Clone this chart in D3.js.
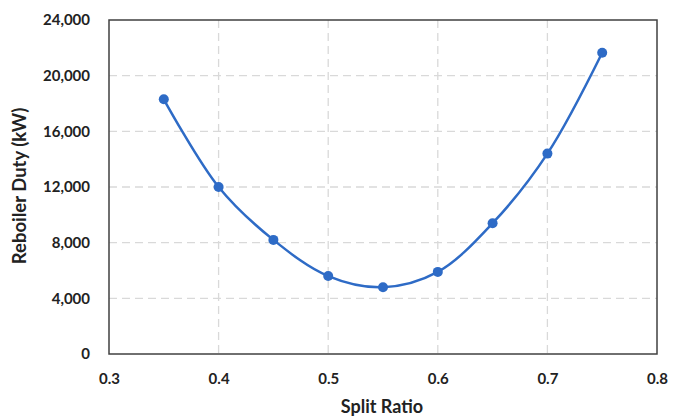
<!DOCTYPE html>
<html>
<head>
<meta charset="utf-8">
<script src="https://cdn.jsdelivr.net/npm/d3@7"></script>
<style>
  body { margin: 0; background: #fff; }
  text { font-family: Lato, "Open Sans", sans-serif; font-weight: bold; fill: #222; }
</style>
</head>
<body>
<div id="chart"></div>
<script>
const splitRatio = [0.35, 0.40, 0.45, 0.50, 0.55, 0.60, 0.65, 0.70, 0.75];
const reboilerDuty = [18300, 12000, 8200, 5600, 4800, 5900, 9400, 14400, 21650];
const xTicks = [0.3, 0.4, 0.5, 0.6, 0.7, 0.8];
const yTicks = [0, 4000, 8000, 12000, 16000, 20000, 24000];

const width = 673, height = 418;
const margin = { top: 20, right: 16, bottom: 64, left: 109 };
const w = width - margin.left - margin.right;
const h = height - margin.top - margin.bottom;

const svg = d3.select("#chart").append("svg")
  .attr("width", width)
  .attr("height", height);

const g = svg.append("g")
  .attr("transform", `translate(${margin.left},${margin.top})`);

const x = d3.scaleLinear().domain([0.3, 0.8]).range([0, w]);
const y = d3.scaleLinear().domain([0, 24000]).range([h, 0]);

// dashed gridlines
g.append("g").selectAll("line")
  .data(yTicks.slice(1, -1))
  .join("line")
  .attr("x1", 0).attr("x2", w)
  .attr("y1", d => y(d)).attr("y2", d => y(d))
  .attr("stroke", "#d9d9d9").attr("stroke-width", 1.3)
  .attr("stroke-dasharray", "8,5");

g.append("g").selectAll("line")
  .data(xTicks.slice(1, -1))
  .join("line")
  .attr("x1", d => x(d)).attr("x2", d => x(d))
  .attr("y1", 0).attr("y2", h)
  .attr("stroke", "#d9d9d9").attr("stroke-width", 1.3)
  .attr("stroke-dasharray", "8,5");

// frame
g.append("rect")
  .attr("width", w).attr("height", h)
  .attr("fill", "none")
  .attr("stroke", "#404040")
  .attr("stroke-width", 1.5);

// axes
const xAxis = g.append("g")
  .attr("transform", `translate(0,${h})`)
  .call(d3.axisBottom(x).tickValues(xTicks).tickFormat(d3.format(".1f")).tickSize(0).tickPadding(19));
xAxis.select(".domain").remove();
xAxis.selectAll("text").style("font-size", "15px");

const yAxis = g.append("g")
  .call(d3.axisLeft(y).tickValues(yTicks).tickFormat(d3.format(",")).tickSize(0).tickPadding(19));
yAxis.select(".domain").remove();
yAxis.selectAll("text").style("font-size", "15px");

// axis titles
svg.append("text")
  .attr("x", 382)
  .attr("y", 413)
  .attr("text-anchor", "middle")
  .style("font-size", "18px")
  .text("Split Ratio");

svg.append("text")
  .attr("transform", `translate(26,186) rotate(-90)`)
  .attr("text-anchor", "middle")
  .style("font-size", "18.5px")
  .text("Reboiler Duty (kW)");

// line + markers
const points = splitRatio.map((d, i) => [d, reboilerDuty[i]]);
const line = d3.line()
  .x(d => x(d[0]))
  .y(d => y(d[1]))
  .curve(d3.curveCatmullRom.alpha(0.5));

g.append("path")
  .datum(points)
  .attr("d", line)
  .attr("fill", "none")
  .attr("stroke", "#2e6bc6")
  .attr("stroke-width", 2.5);

g.selectAll("circle")
  .data(points)
  .join("circle")
  .attr("cx", d => x(d[0]))
  .attr("cy", d => y(d[1]))
  .attr("r", 5)
  .attr("fill", "#2e6bc6");
</script>
</body>
</html>
